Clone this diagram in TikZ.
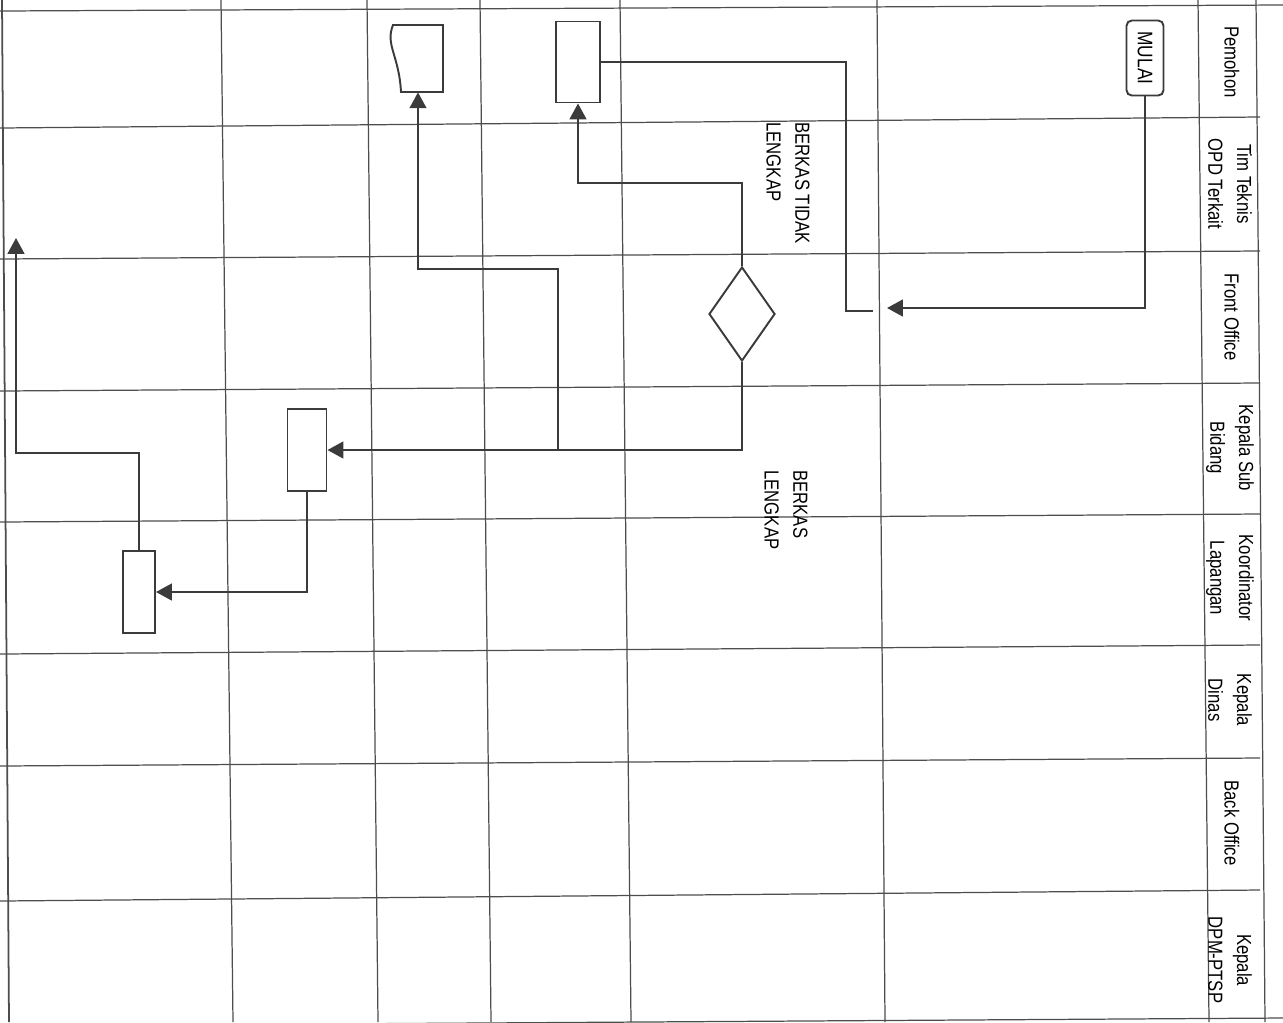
\documentclass[tikz,border=0pt]{standalone}
\usepackage{fontspec}
\setmainfont{Liberation Sans}
\newfontfamily\lanefont[FakeStretch=0.82]{Liberation Sans}
\usepackage{xcolor}
\usetikzlibrary{arrows.meta, shapes.geometric}
\definecolor{ink}{HTML}{3B3B3B}
\definecolor{rulegray}{HTML}{4D4D4D}

\begin{document}
\begin{tikzpicture}[
  x=0.02cm, y=-0.02cm,
  laneline/.style={draw=rulegray, line width=0.7pt},
  lanelabel/.style={rotate=-90, align=center, inner sep=0pt, font=\lanefont\fontsize{11.6}{16.4}\selectfont},
  notelabel/.style={rotate=-90, align=left, anchor=west, inner sep=0pt, font=\lanefont\fontsize{11.6}{16.4}\selectfont},
  startbox/.style={rectangle, rotate=-90, draw=ink, line width=1.1pt, rounded corners=3pt, minimum width=1.5cm, minimum height=0.74cm, inner sep=0pt, font=\lanefont\fontsize{12}{14}\selectfont},
  procbox/.style={rectangle, draw=ink, line width=1.1pt, inner sep=0pt, minimum height=1.62cm},
  decision/.style={diamond, draw=ink, line width=1.1pt, inner sep=0pt, minimum width=1.32cm, minimum height=1.88cm},
  link/.style={draw=ink, line width=1.2pt},
  arrow/.style={link, -{Triangle[length=9pt, width=9.5pt]}}
]
  \useasboundingbox (0,0) rectangle (1283,1022);

  % The swimlane grid, the scan is a little skewed so the lines lean
  \draw[laneline, line width=1pt] (2,0) -- (9,1022);
  \draw[laneline] (221,0) -- (233,1022);
  \draw[laneline] (367,0) -- (378,1022);
  \draw[laneline] (480,0) -- (491,1022);
  \draw[laneline] (620,0) -- (631,1022);
  \draw[laneline] (877,0) -- (885,1022);
  \draw[laneline] (1198,0) -- (1209,1022);
  \draw[laneline] (1256,0) -- (1265,1022);

  \draw[laneline] (0,11) -- (1283,5);
  \draw[laneline] (0,128) -- (1260,117);
  \draw[laneline] (0,259) -- (1260,251);
  \draw[laneline] (0,391) -- (1260,383);
  \draw[laneline] (0,522) -- (1260,514);
  \draw[laneline] (0,654) -- (1260,645);
  \draw[laneline] (0,766) -- (1260,758);
  \draw[laneline] (0,901) -- (1260,890);
  \draw[laneline] (0,1026) -- (1283,1018);

  % Lane names in the header column
  \node[lanelabel] (pemohon) at (1232,62) {Pemohon};
  \node[lanelabel] (timteknis) at (1230,184) {Tim Teknis\\OPD Terkait};
  \node[lanelabel] (frontoffice) at (1232,317) {Front Office};
  \node[lanelabel] (kasubidlbl) at (1230,448) {Kepala Sub\\Bidang};
  \node[lanelabel] (korlaplbl) at (1230,578) {Koordinator\\Lapangan};
  \node[lanelabel] (kadis) at (1230,700) {Kepala\\Dinas};
  \node[lanelabel] (backoffice) at (1232,823) {Back Office};
  \node[lanelabel] (kadpm) at (1230,960) {Kepala\\DPM-PTSP};

  % Flow symbols
  \node[startbox] (mulai) at (1145,58) {MULAI};
  \node[procbox, minimum width=0.88cm] (tolak) at (578,62) {};
  \node[decision] (cek) at (742,314) {};
  \node[procbox, minimum width=0.78cm, minimum height=1.64cm] (kasubid) at (307,450) {};
  \node[procbox, minimum width=0.64cm, minimum height=1.64cm] (korlap) at (139,592) {};
  \node[inner sep=0pt, minimum width=1.0cm, minimum height=1.34cm] (berkas) at (418,58.5) {};
  \draw[link, line width=1.1pt] (443,25) -- (443,92) -- (401,92) .. controls (399,55) and (385,45) .. (393,25) -- cycle;

  % Decision labels
  \node[notelabel] (tidaklengkap) at (788,122) {BERKAS TIDAK\\LENGKAP};
  \node[notelabel] (lengkap) at (786,470) {BERKAS\\LENGKAP};

  % Loose ends of the connectors
  \coordinate (foin) at (887,308);
  \coordinate (foout) at (873,311);
  \coordinate (fobend) at (846,311);
  \coordinate (split) at (558,450);
  \coordinate (keluar) at (16,238);

  % Connectors
  \draw[arrow] (mulai) |- (foin);
  \draw[link] (tolak.east) -| (fobend) -- (foout);
  \draw[arrow] (cek.north) -- ++(0,-83) -| (tolak.south);
  \draw[arrow] (cek.south) |- (kasubid.east);
  \draw[arrow] (split) -- ++(0,-181) -| (berkas.south);
  \draw[arrow] (kasubid.south) |- (korlap.east);
  \draw[arrow] (korlap.north) -- ++(0,-97) -| (keluar);

\end{tikzpicture}
\end{document}
